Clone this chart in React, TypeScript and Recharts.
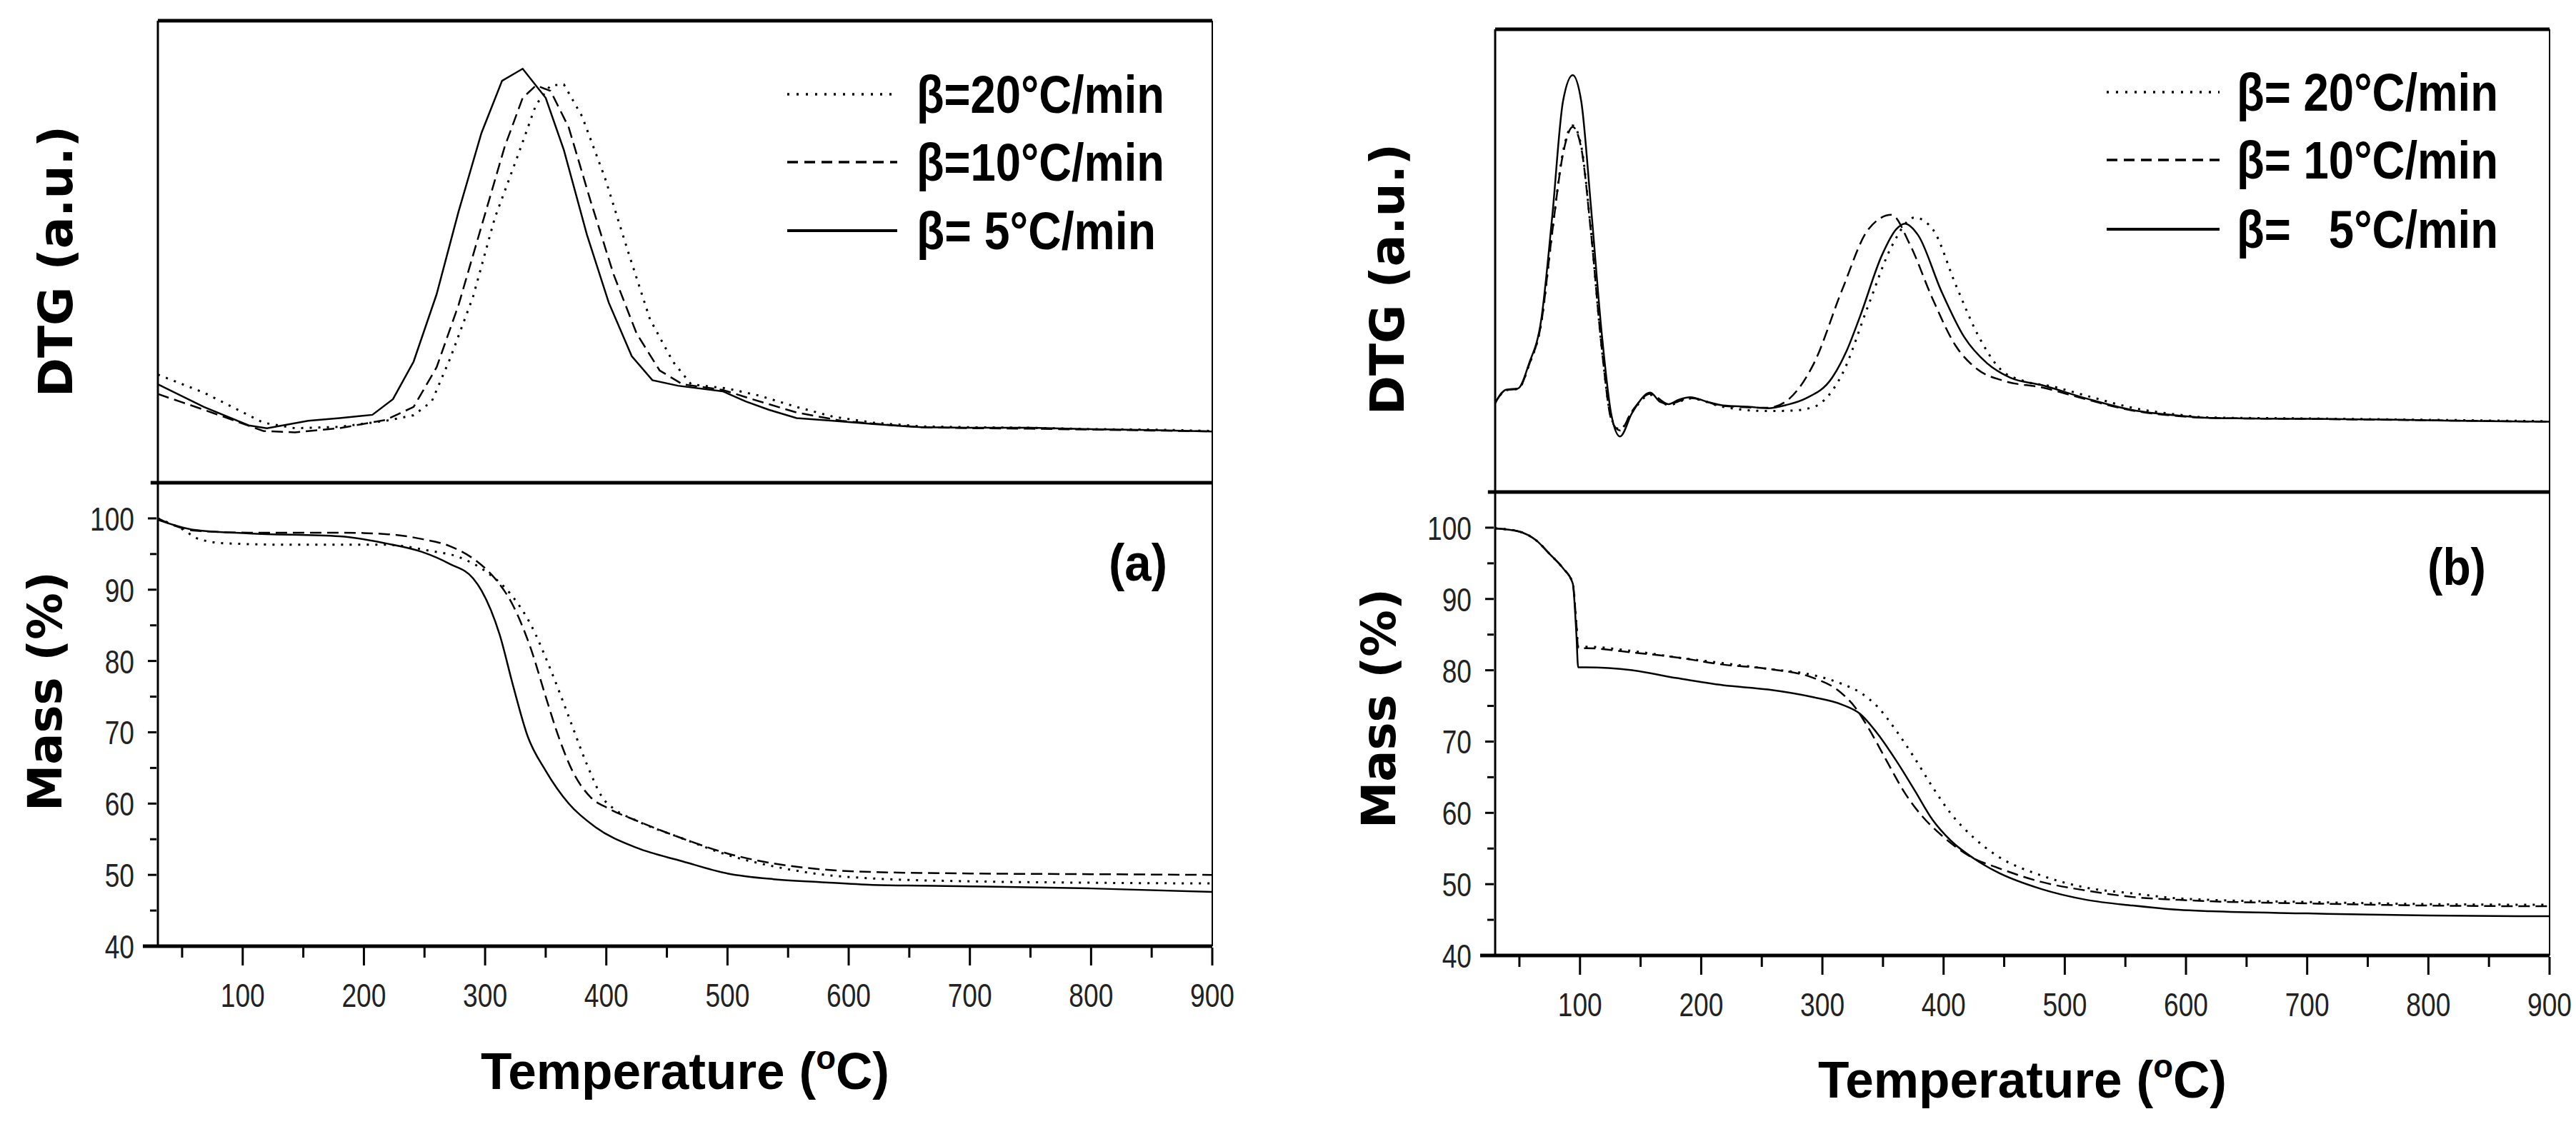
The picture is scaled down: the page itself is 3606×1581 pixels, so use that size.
import { Line, LineChart, ReferenceLine, XAxis, YAxis } from "recharts";

type Pt = [number, number];

const xTicks = [50, 100, 150, 200, 250, 300, 350, 400, 450, 500, 550, 600, 650, 700, 750, 800, 850, 900];
const massTicks = [40, 45, 50, 55, 60, 65, 70, 75, 80, 85, 90, 95, 100];
const legendA = ["β=20°C/min", "β=10°C/min", "β= 5°C/min"];
const legendB = ["β= 20°C/min", "β= 10°C/min", "β=   5°C/min"];

// (a) DTG, arbitrary units (0 = bottom of panel, 100 = top)
const dtgA20: Pt[] = [[30, 23.4], [68, 19.5], [117, 13.0], [143, 11.8], [180, 12.1], [218, 13.4], [241, 14.6], [256, 17.6], [271, 26.8], [290, 40.2], [308, 57.3], [327, 70.8], [342, 81.8], [354, 86.0], [365, 86.2], [380, 79.3], [399, 65.9], [418, 50.0], [436, 35.4], [455, 26.2], [470, 21.3], [500, 20.4], [527, 18.8], [557, 16.4], [587, 14.3], [620, 13.0], [660, 12.2], [700, 12.0], [750, 11.9], [800, 11.6], [850, 11.5], [900, 11.2]];
const dtgA10: Pt[] = [[30, 19.2], [68, 15.8], [117, 11.2], [143, 10.9], [180, 11.8], [218, 13.6], [241, 16.4], [260, 25.0], [278, 38.4], [297, 55.5], [316, 72.6], [331, 83.3], [342, 86.0], [354, 84.8], [369, 76.9], [387, 61.0], [406, 45.1], [425, 32.3], [444, 24.3], [463, 21.3], [496, 20.1], [519, 18.2], [557, 15.2], [594, 13.4], [620, 12.8], [660, 12.0], [700, 11.8], [750, 11.7], [800, 11.5], [850, 11.3], [900, 11.1]];
const dtgA5: Pt[] = [[30, 21.3], [68, 16.4], [105, 12.4], [120, 11.8], [154, 13.4], [180, 14.0], [207, 14.7], [224, 18.1], [241, 26.2], [260, 40.8], [278, 58.6], [297, 75.7], [314, 87.0], [331, 89.6], [350, 83.3], [365, 72.0], [384, 53.7], [402, 39.0], [421, 27.4], [438, 22.2], [459, 21.0], [496, 19.8], [515, 17.6], [534, 15.8], [557, 14.0], [587, 13.4], [620, 12.7], [660, 12.0], [700, 11.9], [750, 11.9], [800, 11.6], [850, 11.4], [900, 11.1]];

// (a) mass, %
const massA20: Pt[] = [[30, 100], [50, 98.5], [64, 97.1], [86, 96.5], [143, 96.3], [218, 96.3], [256, 95.4], [278, 94.6], [301, 92.5], [320, 89.6], [338, 85.0], [354, 78.8], [369, 72.2], [384, 65.5], [397, 60.8], [406, 59.3], [425, 57.6], [463, 55.1], [500, 52.8], [538, 51.2], [576, 50.1], [620, 49.5], [700, 49.1], [800, 48.9], [900, 48.8]];
const massA10: Pt[] = [[30, 100], [60, 98.3], [105, 98.0], [180, 98.0], [218, 97.8], [248, 97.1], [271, 96.1], [293, 94.0], [308, 91.6], [323, 87.8], [338, 81.6], [350, 75.0], [361, 69.2], [372, 64.6], [387, 60.9], [402, 59.3], [425, 57.6], [463, 55.1], [500, 53.0], [538, 51.6], [576, 50.8], [620, 50.4], [700, 50.2], [800, 50.1], [900, 50.0]];
const massA5: Pt[] = [[30, 99.8], [60, 98.4], [105, 97.9], [180, 97.5], [218, 96.5], [248, 95.3], [271, 93.6], [290, 91.6], [297, 89.9], [312, 83.7], [323, 76.6], [335, 69.5], [350, 64.6], [369, 60.0], [391, 56.7], [425, 53.8], [463, 51.9], [500, 50.2], [538, 49.4], [576, 49.0], [620, 48.6], [700, 48.4], [800, 48.1], [900, 47.6]];

// (b) DTG
const dtgB20: Pt[] = [[30, 19.3], [39, 22.0], [49, 22.3], [58, 27.5], [68, 36.5], [77, 56.0], [86, 73.5], [94, 79.2], [101, 74.8], [109, 56.5], [118, 31.0], [126, 15.8], [133, 13.5], [143, 17.3], [158, 21.0], [173, 18.8], [191, 20.2], [218, 18.4], [255, 17.5], [275, 17.6], [293, 18.4], [316, 25.3], [338, 40.4], [357, 53.0], [376, 59.3], [391, 56.8], [410, 44.8], [428, 34.1], [447, 26.5], [466, 24.0], [490, 22.8], [518, 20.8], [556, 18.2], [594, 16.7], [620, 16.1], [700, 15.9], [800, 15.6], [900, 15.3]];
const dtgB10: Pt[] = [[30, 19.3], [39, 22.0], [49, 22.3], [58, 27.5], [68, 36.5], [77, 56.0], [86, 73.1], [94, 78.9], [101, 74.4], [109, 56.2], [118, 30.9], [126, 15.5], [133, 13.3], [143, 17.5], [158, 21.2], [173, 19.0], [191, 20.3], [218, 18.6], [255, 18.2], [270, 19.6], [293, 27.8], [316, 43.5], [338, 56.8], [357, 59.9], [372, 53.6], [391, 41.7], [410, 31.6], [428, 26.5], [450, 24.0], [481, 22.6], [518, 20.0], [556, 17.6], [594, 16.4], [620, 16.0], [700, 15.8], [800, 15.5], [900, 15.2]];
const dtgB5: Pt[] = [[30, 19.3], [39, 22.1], [49, 22.4], [58, 27.8], [68, 37.2], [77, 59.3], [86, 84.5], [94, 90.1], [101, 84.5], [109, 61.8], [118, 34.1], [126, 16.5], [133, 12.0], [143, 17.1], [158, 21.5], [166, 19.5], [173, 19.0], [182, 20.0], [191, 20.5], [205, 19.5], [218, 18.7], [240, 18.4], [255, 18.1], [270, 18.8], [286, 20.2], [308, 24.7], [320, 30.5], [331, 37.9], [349, 51.1], [361, 56.8], [368, 58.0], [379, 55.5], [398, 43.5], [417, 33.5], [436, 27.8], [455, 24.7], [481, 23.1], [518, 20.2], [556, 17.7], [594, 16.5], [620, 16.0], [650, 15.9], [700, 15.8], [750, 15.7], [800, 15.5], [850, 15.3], [900, 15.2]];

// (b) mass
const massB20: Pt[] = [[30, 99.9], [49, 99.5], [64, 98.2], [75, 96.3], [86, 94.3], [94, 92.2], [97, 86.5], [98.5, 83.3], [105, 83.3], [143, 82.7], [180, 81.8], [218, 81.0], [255, 80.2], [293, 79.3], [316, 78.1], [331, 76.9], [346, 74.8], [361, 71.5], [376, 67.7], [391, 63.6], [406, 59.9], [425, 56.5], [443, 54.1], [481, 51.2], [518, 49.5], [556, 48.7], [594, 48.0], [620, 47.8], [700, 47.5], [800, 47.2], [900, 47.1]];
const massB10: Pt[] = [[30, 99.9], [49, 99.5], [64, 98.2], [75, 96.3], [86, 94.3], [94, 92.2], [97, 86.5], [98.5, 83.1], [105, 83.1], [143, 82.5], [180, 81.8], [218, 80.8], [255, 80.2], [293, 78.9], [312, 77.3], [327, 74.8], [338, 71.9], [353, 67.3], [368, 62.8], [383, 59.4], [398, 56.9], [425, 53.6], [443, 52.4], [481, 50.3], [518, 49.1], [556, 48.2], [594, 47.8], [620, 47.6], [700, 47.3], [800, 47.0], [900, 46.9]];
const massB5: Pt[] = [[30, 99.9], [49, 99.5], [64, 98.2], [75, 96.3], [86, 94.3], [94, 92.2], [97, 85.1], [98.5, 80.4], [105, 80.4], [143, 80.0], [180, 78.9], [218, 77.9], [255, 77.3], [293, 76.2], [316, 75.2], [331, 73.9], [346, 71.0], [361, 67.3], [376, 63.2], [391, 59.0], [406, 56.1], [425, 53.6], [443, 51.8], [481, 49.3], [518, 47.8], [556, 47.0], [594, 46.4], [620, 46.2], [700, 45.9], [800, 45.6], [900, 45.5]];

const NARROW = "'Liberation Sans Narrow', 'Arial Narrow', 'Liberation Sans', Arial, sans-serif";
const PLAIN = "'Liberation Sans', Arial, sans-serif";
const WIDE = "'DejaVu Sans', Verdana, sans-serif";

// line look per heating rate: dotted 20, dashed 10, solid 5
const STROKE: Record<number, { dash?: string; width: number }> = {
  20: { dash: "3 9", width: 3 },
  10: { dash: "16 8", width: 2.5 },
  5: { width: 2.5 },
};

const toRows = (pts: Pt[]) => pts.map(([t, v]) => ({ t, v }));

type Series = { rate: number; pts: Pt[] };
type Geo = { x0: number; dtgTop: number; sep: number; bottom: number };

const PLOT_W = 1476;
const LEFT_PAD = 221;
const RIGHT_PAD = 1800 - LEFT_PAD - PLOT_W;

// tick labels are a condensed face in the original: squeeze Liberation Sans horizontally
function TickText({ x, y, anchor, v }: { x: number; y: number; anchor: "middle" | "end"; v: number }) {
  return (
    <text transform={`translate(${x},${y}) scale(0.79,1)`} textAnchor={anchor} fontSize={47}
      fontFamily={PLAIN} fill="#222">
      {v}
    </text>
  );
}

function XTick(props: any) {
  const { x, y, payload } = props;
  const v = payload.value as number;
  const major = v % 100 === 0;
  return (
    <g>
      <line x1={x} x2={x} y1={y} y2={y + (major ? 25 : 14)} stroke="#000" strokeWidth={3} />
      {major && <TickText x={x} y={y + 83} anchor="middle" v={v} />}
    </g>
  );
}

function YTick(props: any) {
  const { x, y, payload } = props;
  const v = payload.value as number;
  const major = v % 10 === 0;
  return (
    <g>
      <line x1={x} x2={x - (major ? 12 : 9)} y1={y} y2={y} stroke="#000" strokeWidth={3} />
      {major && <TickText x={x - 31} y={y + 17} anchor="end" v={v} />}
    </g>
  );
}

function seriesLines(list: Series[], type: "linear" | "monotone") {
  return list.map((s) => (
    <Line
      key={s.rate}
      data={toRows(s.pts)}
      dataKey="v"
      type={type}
      stroke="#000"
      strokeWidth={STROKE[s.rate].width}
      strokeDasharray={STROKE[s.rate].dash}
      dot={false}
      activeDot={false}
      isAnimationActive={false}
    />
  ));
}

function Panel({ g, dtg, mass, dtgType }: { g: Geo; dtg: Series[]; mass: Series[]; dtgType: "linear" | "monotone" }) {
  const massH = g.bottom - g.sep;
  return (
    <>
      <div style={{ position: "absolute", left: g.x0 - LEFT_PAD, top: 0 }}>
        <LineChart width={1800} height={g.sep + 30}
          margin={{ top: g.dtgTop, right: RIGHT_PAD, bottom: 30, left: LEFT_PAD }}>
          <XAxis hide type="number" dataKey="t" domain={[30, 900]} allowDataOverflow />
          <YAxis hide type="number" domain={[0, 100]} allowDataOverflow />
          <ReferenceLine y={100} stroke="#000" strokeWidth={5} />
          <ReferenceLine segment={[{ x: 24, y: 0 }, { x: 900, y: 0 }]} ifOverflow="visible" stroke="#000" strokeWidth={5} />
          <ReferenceLine x={30} stroke="#000" strokeWidth={3} />
          <ReferenceLine x={900} stroke="#000" strokeWidth={2} />
          {seriesLines(dtg, dtgType)}
        </LineChart>
      </div>
      <div style={{ position: "absolute", left: g.x0 - LEFT_PAD, top: g.sep - 26 }}>
        <LineChart width={1800} height={26 + massH + 100 + 140}
          margin={{ top: 26, right: RIGHT_PAD, bottom: 140, left: 0 }}>
          <XAxis type="number" dataKey="t" domain={[30, 900]} ticks={xTicks} interval={0}
            tickSize={0} tickLine={false} axisLine={{ stroke: "#000", strokeWidth: 5 }}
            tick={XTick} height={100} allowDataOverflow />
          <YAxis type="number" domain={[40, 105]} ticks={massTicks} interval={0}
            tickSize={0} tickLine={false} axisLine={{ stroke: "#000", strokeWidth: 3 }}
            tick={YTick} width={LEFT_PAD} allowDataOverflow />
          <ReferenceLine segment={[{ x: 17.6, y: 40 }, { x: 30, y: 40 }]} ifOverflow="visible" stroke="#000" strokeWidth={5} />
          <ReferenceLine x={900} stroke="#000" strokeWidth={2} />
          {seriesLines(mass, "monotone")}
        </LineChart>
      </div>
    </>
  );
}

function Texts({ g, legend, legendRows, legendX, legendW, tag, tagX, tagY, dtgLbl, massLbl, tempBase }: {
  g: Geo; legend: string[]; legendRows: number[]; legendX: [number, number, number]; legendW: number[];
  tag: string; tagX: number; tagY: number; dtgLbl: [number, number]; massLbl: [number, number]; tempBase: number;
}) {
  const rates = [20, 10, 5];
  const cx = g.x0 + PLOT_W / 2;
  return (
    <g>
      <text transform={`translate(${dtgLbl[0]},${dtgLbl[1]}) rotate(-90)`} textAnchor="middle"
        dominantBaseline="central" fontFamily={WIDE} fontWeight="bold" fontSize={66}
        textLength={380} lengthAdjust="spacingAndGlyphs">DTG (a.u.)</text>
      <text transform={`translate(${massLbl[0]},${massLbl[1]}) rotate(-90)`} textAnchor="middle"
        dominantBaseline="central" fontFamily={WIDE} fontWeight="bold" fontSize={66}
        textLength={336} lengthAdjust="spacingAndGlyphs">Mass (%)</text>
      <text x={cx} y={tempBase} textAnchor="middle" fontFamily={NARROW} fontWeight="bold" fontSize={72}
        textLength={572} lengthAdjust="spacingAndGlyphs">
        Temperature (<tspan fontSize={46} dy={-28}>o</tspan><tspan dy={28}>C)</tspan>
      </text>
      <text x={tagX} y={tagY} fontFamily={NARROW} fontWeight="bold" fontSize={72}
        textLength={82} lengthAdjust="spacingAndGlyphs">{tag}</text>
      {legend.map((lbl, i) => (
        <g key={lbl}>
          <line x1={legendX[0]} x2={legendX[1]} y1={legendRows[i]} y2={legendRows[i]} stroke="#000"
            strokeWidth={rates[i] === 5 ? 4 : 3.5} strokeDasharray={rates[i] === 20 ? "3 10" : rates[i] === 10 ? "15 9" : undefined} />
          <text x={legendX[2]} y={legendRows[i] + 26} fontFamily={NARROW} fontWeight="bold" fontSize={74}
            style={{ whiteSpace: "pre" }} textLength={legendW[i]} lengthAdjust="spacingAndGlyphs">{lbl}</text>
        </g>
      ))}
    </g>
  );
}

const geoA: Geo = { x0: 221, dtgTop: 29, sep: 676, bottom: 1325 };
const geoB: Geo = { x0: 2093, dtgTop: 41, sep: 689, bottom: 1338 };

export default function App() {
  return (
    <div style={{ position: "absolute", left: 0, top: 0, width: 3606, height: 1581, background: "#fff", overflow: "hidden" }}>
      <Panel g={geoA} dtgType="linear"
        dtg={[{ rate: 20, pts: dtgA20 }, { rate: 10, pts: dtgA10 }, { rate: 5, pts: dtgA5 }]}
        mass={[{ rate: 20, pts: massA20 }, { rate: 10, pts: massA10 }, { rate: 5, pts: massA5 }]} />
      <Panel g={geoB} dtgType="monotone"
        dtg={[{ rate: 20, pts: dtgB20 }, { rate: 10, pts: dtgB10 }, { rate: 5, pts: dtgB5 }]}
        mass={[{ rate: 20, pts: massB20 }, { rate: 10, pts: massB10 }, { rate: 5, pts: massB5 }]} />
      <svg width={3606} height={1581} style={{ position: "absolute", left: 0, top: 0, pointerEvents: "none" }}>
        <Texts g={geoA} legend={legendA} legendRows={[132, 227, 323]} legendX={[1102, 1256, 1283]}
          legendW={[347, 347, 335]} tag="(a)" tagX={1552} tagY={813} dtgLbl={[78, 366]} massLbl={[63, 968]} tempBase={1525} />
        <Texts g={geoB} legend={legendB} legendRows={[129, 224, 321]} legendX={[2949, 3107, 3131]}
          legendW={[366, 366, 366]} tag="(b)" tagX={3398} tagY={819} dtgLbl={[1942, 391]} massLbl={[1930, 992]} tempBase={1537} />
      </svg>
    </div>
  );
}
